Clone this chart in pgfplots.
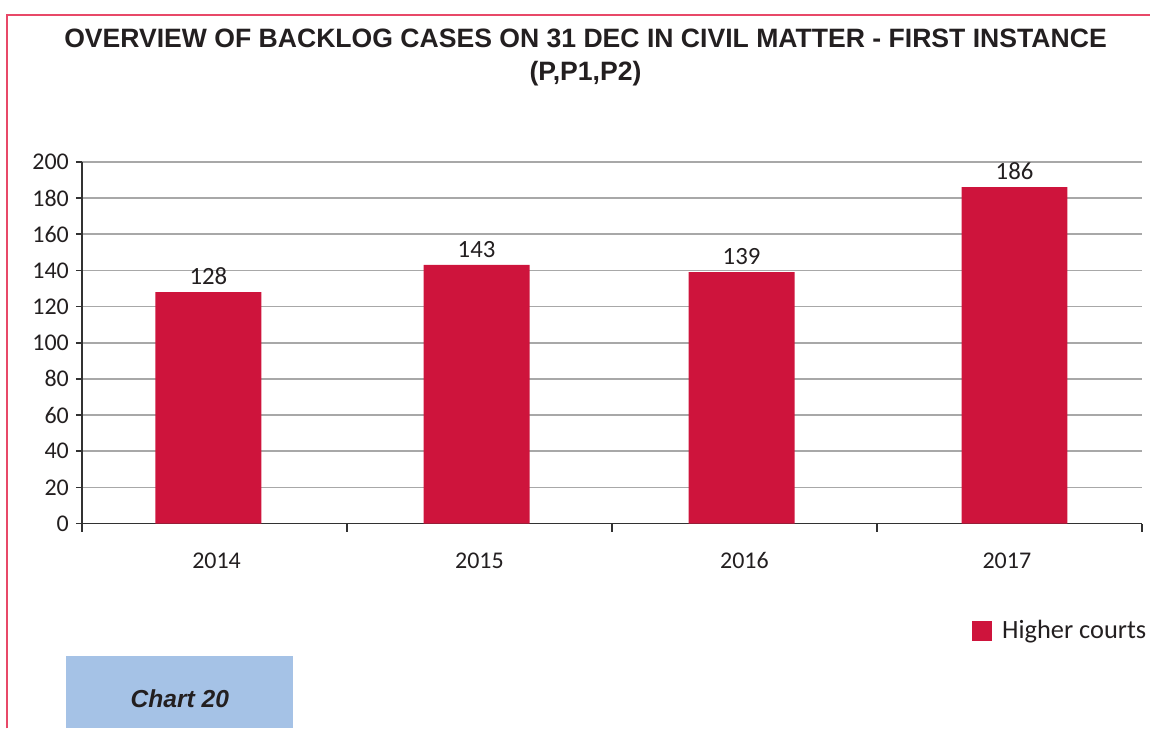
\documentclass[border=0pt]{standalone}
\usepackage{fontspec}
\setmainfont{Carlito}
\newfontfamily\arial{Liberation Sans}
\usepackage{pgfplots}
\pgfplotsset{compat=1.18}
\definecolor{barred}{RGB}{206,20,60}
\definecolor{framepink}{RGB}{232,72,104}
\definecolor{boxblue}{RGB}{165,194,230}
\definecolor{gridgray}{RGB}{168,168,168}
\definecolor{axisdark}{RGB}{50,50,50}
\definecolor{txt}{RGB}{35,31,32}
\begin{document}
\begin{tikzpicture}[x=0.5pt,y=0.5pt]
\path (0,0) rectangle (1151,729);
% frame
\draw[framepink,line width=1pt] (7.5,0) -- (7.5,714) -- (1151,714);
% title
\node[font=\arial\bfseries\fontsize{13.3}{16.5}\selectfont,text=txt,align=center] at (586,671) {OVERVIEW OF BACKLOG CASES ON 31 DEC IN CIVIL MATTER - FIRST INSTANCE\\(P,P1,P2)};
% chart box
\fill[boxblue] (66,0) rectangle (293,72);
\node[font=\arial\bfseries\itshape\fontsize{12.3}{14}\selectfont,text=txt] at (180,30) {Chart 20};
\begin{axis}[
  at={(41pt,102.5pt)}, anchor=south west,
  scale only axis, width=530.5pt, height=181pt,
  xmin=-0.5, xmax=3.5, ymin=0, ymax=200,
  ytick={0,20,...,200},
  xtick={0.008,1,2,2.99}, xticklabels={2014,2015,2016,2017},
  minor xtick={-0.5,0.5,1.5,2.5,3.5},
  axis lines=left, axis line style={-,axisdark,line width=0.8pt},
  ymajorgrids, grid style={gridgray,line width=0.8pt},
  tick align=outside,
  major tick length=3pt, minor tick length=4pt,
  tick style={axisdark,line width=0.8pt},
  xtick style={draw=none},
  minor x tick style={draw=axisdark},
  every tick label/.append style={font=\fontsize{12}{14}\selectfont,text=txt},
  xticklabel style={yshift=-8pt,text height=8pt,text depth=0pt},
  /pgf/number format/assume math mode=true,
  ybar, bar width=53pt,
  nodes near coords,
  every node near coord/.append style={font=\fontsize{12.4}{14}\selectfont,text=txt},
  legend style={at={(0.8398,-0.298)},anchor=west,draw=none,fill=none,inner sep=0pt,outer sep=0pt,font=\fontsize{13.2}{15}\selectfont,text=txt,
    nodes={inner sep=0pt}},
  legend image code/.code={\fill[barred] (0pt,-5pt) rectangle (10pt,5pt);},
  clip=false,
]
\addplot[fill=barred,draw=none] coordinates {(-0.023,128) (0.989,143) (1.989,139) (3.019,186)};
\addlegendentry{\hspace{5pt}Higher courts}
\end{axis}
\end{tikzpicture}
\end{document}
